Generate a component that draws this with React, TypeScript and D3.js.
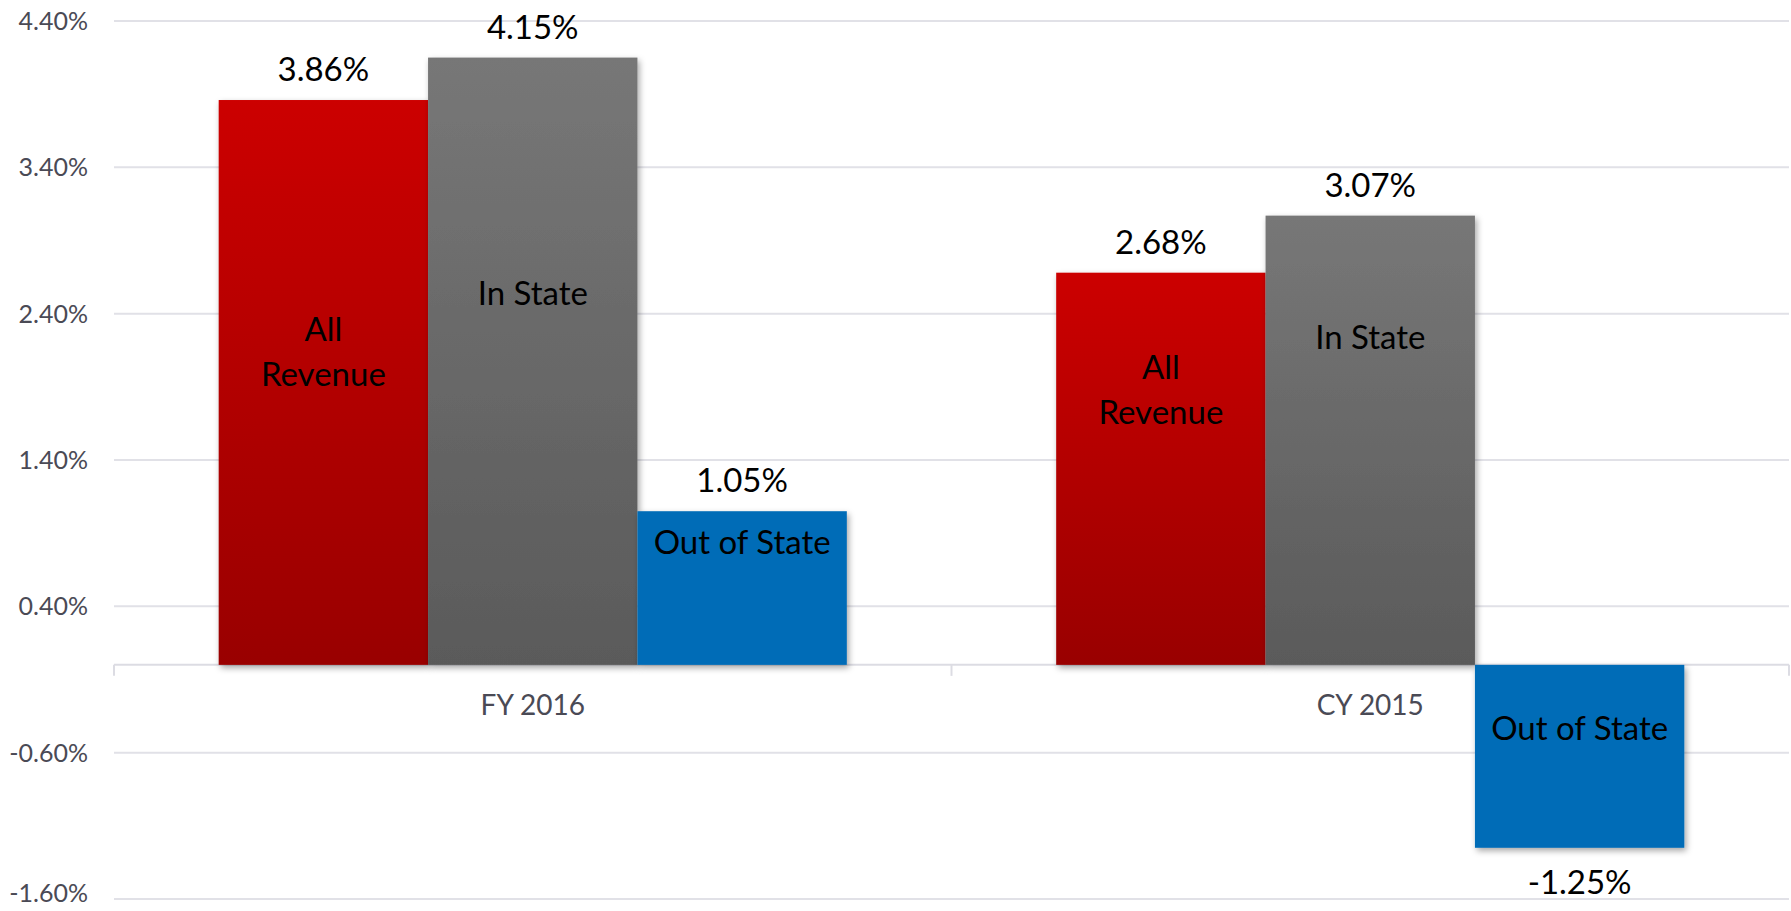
import React from 'react';
import * as d3 from 'd3';

// growth rates, in percent
const categories = ['FY 2016', 'CY 2015'];
const series = ['All Revenue', 'In State', 'Out of State'];
const allRevenue = [3.86, 2.68];
const inState = [4.15, 3.07];
const outOfState = [1.05, -1.25];
const valueLabels = [
  ['3.86%', '4.15%', '1.05%'],
  ['2.68%', '3.07%', '-1.25%'],
];
// text drawn inside each bar, and the value (in %) where it sits
const insideLines = [['All', 'Revenue'], ['In State'], ['Out of State']];
const insideAt = [
  [2.14, 2.54, 0.84],
  [1.88, 2.24, -0.43],
];
const yTicks = [4.4, 3.4, 2.4, 1.4, 0.4, -0.6, -1.6];

const W = 1791;
const H = 911;
const margin = { top: 21, right: 2, bottom: 12, left: 114 };
const FONT = '"Gill Sans", "Gill Sans MT", Lato, sans-serif';

const App: React.FC = () => {
  const values = categories.map((_, i) => [allRevenue[i], inState[i], outOfState[i]]);

  const x0 = d3.scaleBand<string>()
    .domain(categories)
    .range([margin.left, W - margin.right])
    .paddingInner(0)
    .paddingOuter(0);

  const x1 = d3.scaleBand<string>()
    .domain(series)
    .range([0, x0.bandwidth()])
    .paddingInner(0)
    .paddingOuter(0.5);

  const y = d3.scaleLinear()
    .domain([-1.6, 4.4])
    .range([H - margin.bottom, margin.top]);

  const fills = ['url(#gradRed)', 'url(#gradGray)', '#006cb7'];

  return (
    <div style={{ position: 'absolute', left: 0, top: 0 }}>
      <svg width={W} height={H} style={{ display: 'block', background: '#fff' }}>
        <defs>
          <linearGradient id="gradRed" x1="0" y1="0" x2="0" y2="1">
            <stop offset="0" stopColor="#cc0000" />
            <stop offset="1" stopColor="#990000" />
          </linearGradient>
          <linearGradient id="gradGray" x1="0" y1="0" x2="0" y2="1">
            <stop offset="0" stopColor="#777777" />
            <stop offset="1" stopColor="#5a5a5a" />
          </linearGradient>
          <filter id="shadow" x="-10%" y="-10%" width="130%" height="130%">
            <feDropShadow dx="2" dy="3" stdDeviation="3" floodColor="#000" floodOpacity="0.35" />
          </filter>
        </defs>

        {/* grid lines */}
        {yTicks.map(t => (
          <line
            key={t}
            x1={margin.left}
            x2={W - margin.right}
            y1={y(t)}
            y2={y(t)}
            stroke="#e1e1e7"
            strokeWidth={2}
          />
        ))}

        {/* y tick labels (the lowest one nudged up so it stays inside the frame) */}
        {yTicks.map(t => (
          <text
            key={'l' + t}
            x={88}
            y={Math.min(y(t), H - 18)}
            dy="0.36em"
            textAnchor="end"
            fontFamily={FONT}
            fontSize={25}
            fill="#4a4a55"
          >
            {t.toFixed(2) + '%'}
          </text>
        ))}

        {/* zero axis with category ticks */}
        <line x1={margin.left} x2={W - margin.right} y1={y(0)} y2={y(0)} stroke="#dcdce3" strokeWidth={2} />
        {[...categories.map(c => x0(c)!), W - margin.right].map((tx, i) => (
          <line key={'t' + i} x1={tx} x2={tx} y1={y(0)} y2={y(0) + 11} stroke="#dcdce3" strokeWidth={2} />
        ))}

        {/* category labels */}
        {categories.map(c => (
          <text
            key={c}
            x={x0(c)! + x0.bandwidth() / 2}
            y={715}
            textAnchor="middle"
            fontFamily={FONT}
            fontSize={28}
            fill="#4a4a55"
          >
            {c}
          </text>
        ))}

        {/* bars */}
        {categories.map((c, ci) =>
          series.map((s, si) => {
            const v = values[ci][si];
            const bx = x0(c)! + x1(s)!;
            const top = y(Math.max(0, v));
            const h = Math.abs(y(v) - y(0));
            return (
              <rect
                key={c + s}
                x={bx}
                y={top}
                width={x1.bandwidth()}
                height={h}
                fill={fills[si]}
                filter="url(#shadow)"
              />
            );
          })
        )}

        {/* value labels */}
        {categories.map((c, ci) =>
          series.map((s, si) => {
            const v = values[ci][si];
            const cx = x0(c)! + x1(s)! + x1.bandwidth() / 2;
            const ly = v >= 0 ? y(v) - 19 : y(v) + 46;
            return (
              <text
                key={'v' + c + s}
                x={cx}
                y={ly}
                textAnchor="middle"
                fontFamily={FONT}
                fontSize={33}
                fill="#000"
              >
                {valueLabels[ci][si]}
              </text>
            );
          })
        )}

        {/* inside labels */}
        {categories.map((c, ci) =>
          series.map((s, si) => {
            const cx = x0(c)! + x1(s)! + x1.bandwidth() / 2;
            const lines = insideLines[si];
            const lh = 45;
            const cy = y(insideAt[ci][si]);
            const first = cy - ((lines.length - 1) * lh) / 2;
            return (
              <text
                key={'i' + c + s}
                x={cx}
                textAnchor="middle"
                fontFamily={FONT}
                fontSize={33}
                fill="#000"
              >
                {lines.map((ln, k) => (
                  <tspan key={k} x={cx} y={first + k * lh} dy="0.36em">
                    {ln}
                  </tspan>
                ))}
              </text>
            );
          })
        )}
      </svg>
    </div>
  );
};

export default App;
